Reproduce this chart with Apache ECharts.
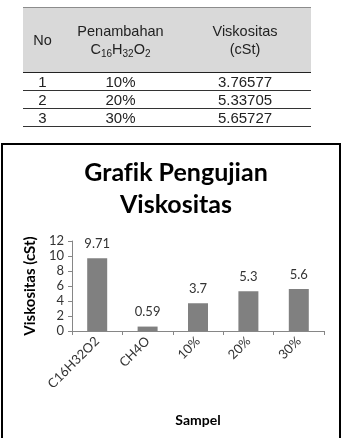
<!DOCTYPE html>
<html>
<head>
<meta charset="utf-8">
<script src="https://cdn.jsdelivr.net/npm/echarts@6/dist/echarts.min.js"></script>
<style>
  html, body { margin: 0; padding: 0; background: #fff; }
  #chart { position: absolute; left: 0; top: 0; width: 342px; height: 438px; }
  #box {
    position: absolute; left: 1px; top: 143px; width: 340px; height: 310px;
    box-sizing: border-box; border: 2px solid #000; pointer-events: none;
  }
  #tbl {
    position: absolute; left: 23px; top: 7px; border-collapse: collapse;
    font-family: "Liberation Sans", Arial, sans-serif; color: #222; z-index: 2;
  }
  #tbl th {
    background: #d9d9d9; font-weight: normal; font-size: 14.5px; line-height: 18px;
    height: 64px; padding: 0; border-top: 1px solid #8c8c8c; border-bottom: 1px solid #222;
  }
  #tbl td {
    font-size: 15px; height: 17px; line-height: 17px; padding: 0; text-align: center;
    border-bottom: 1px solid #333;
  }
  #tbl sub { font-size: 10px; vertical-align: -3px; line-height: 0; }
</style>
</head>
<body>
<div id="chart"></div>
<div id="box"></div>
<table id="tbl">
  <colgroup><col style="width:39px"><col style="width:117px"><col style="width:132px"></colgroup>
  <thead>
    <tr>
      <th>No</th>
      <th>Penambahan<br>C<sub>16</sub>H<sub>32</sub>O<sub>2</sub></th>
      <th>Viskositas<br>(cSt)</th>
    </tr>
  </thead>
  <tbody id="rows"></tbody>
</table>
<script>
// table data
const tableNo = ["1", "2", "3"];
const tableAddition = ["10%", "20%", "30%"];
const tableViscosity = ["3.76577", "5.33705", "5.65727"];

// chart data
const samples = ["C16H32O2", "CH4O", "10%", "20%", "30%"];
const viscosity = [9.71, 0.59, 3.7, 5.3, 5.6];

const rows = document.getElementById("rows");
tableNo.forEach((no, i) => {
  const tr = document.createElement("tr");
  [no, tableAddition[i], tableViscosity[i]].forEach((v) => {
    const td = document.createElement("td");
    td.textContent = v;
    tr.appendChild(td);
  });
  rows.appendChild(tr);
});

const font = "Lato, 'Open Sans', sans-serif";
const chart = echarts.init(document.getElementById("chart"), null, { renderer: "canvas" });

chart.setOption({
  backgroundColor: "transparent",
  animation: false,
  title: {
    // zero-width non-joiner keeps "fi" from turning into a ligature
    text: "Graf\u200Cik Pengujian\nViskositas",
    left: 171,
    top: 152,
    textAlign: "center",
    textStyle: {
      fontFamily: font,
      fontWeight: "bold",
      fontSize: 25,
      lineHeight: 32,
      color: "#000",
    },
  },
  grid: {
    left: 72,
    right: 18,
    top: 241,
    bottom: 107,
  },
  xAxis: {
    type: "category",
    data: samples,
    name: "Sampel",
    nameLocation: "middle",
    nameGap: 82,
    nameTextStyle: { fontFamily: font, fontWeight: "bold", fontSize: 14, color: "#000" },
    axisLine: { lineStyle: { color: "#868686", width: 1 } },
    axisTick: { show: true, length: 4, lineStyle: { color: "#868686" } },
    axisLabel: {
      rotate: 45,
      margin: 8,
      fontFamily: font,
      fontSize: 13,
      color: "#333",
    },
  },
  yAxis: {
    type: "value",
    min: 0,
    max: 12,
    interval: 2,
    name: "Viskositas (cSt)",
    nameLocation: "middle",
    nameGap: 31,
    nameTextStyle: { fontFamily: font, fontWeight: "bold", fontSize: 15, color: "#000" },
    axisLine: { show: true, lineStyle: { color: "#868686", width: 1 } },
    axisTick: { show: true, length: 4, lineStyle: { color: "#868686" } },
    splitLine: { show: false },
    axisLabel: {
      margin: 8,
      fontFamily: font,
      fontSize: 13,
      color: "#333",
    },
  },
  series: [
    {
      type: "bar",
      data: viscosity,
      barWidth: 20,
      itemStyle: { color: "#808080" },
      label: {
        show: true,
        position: "top",
        distance: 8,
        fontFamily: font,
        fontSize: 13,
        color: "#333",
      },
    },
  ],
});
</script>
</body>
</html>
